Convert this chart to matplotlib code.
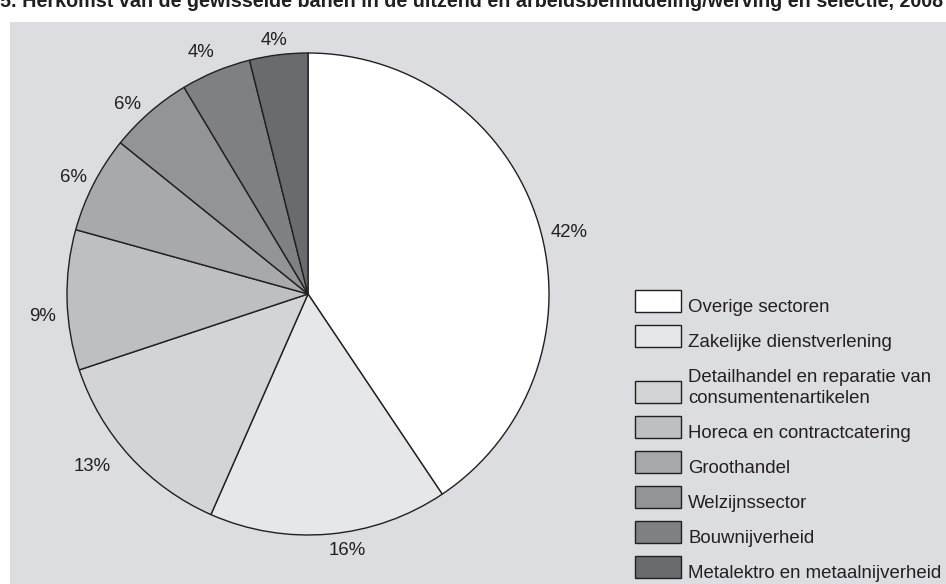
import matplotlib
matplotlib.use("Agg")
import matplotlib.pyplot as plt
from matplotlib.patches import Rectangle

plt.rcParams['font.family'] = ['Liberation Sans', 'DejaVu Sans']

title = ("5. Herkomst van de gewisselde banen in de uitzend en "
         "arbeidsbemiddeling/werving en selectie, 2008")

sectors = [
    "Overige sectoren",
    "Zakelijke dienstverlening",
    "Detailhandel en reparatie van\nconsumentenartikelen",
    "Horeca en contractcatering",
    "Groothandel",
    "Welzijnssector",
    "Bouwnijverheid",
    "Metalektro en metaalnijverheid",
]
# slice sizes as drawn
shares = [40.6, 16.0, 13.3, 9.4, 6.5, 5.6, 4.7, 3.9]
# percentages as printed next to the slices
pct_labels = ["42%", "16%", "13%", "9%", "6%", "6%", "4%", "4%"]
colors = ["#ffffff", "#e6e7e9", "#d3d4d6", "#bebfc2",
          "#a8a9ac", "#939497", "#7f8084", "#6a6b6f"]

# where the percentage labels sit, in pie radii from the centre
label_xy = [(1.083, 0.257), (0.162, -1.066), (-0.896, -0.714),
            (-1.100, -0.095), (-0.975, 0.485), (-0.747, 0.788),
            (-0.444, 1.004), (-0.141, 1.050)]

W, H = 946, 584
bg = "#dcdde0"
ink = "#231f20"
fs = 13.4


def fx(px):
    return px / W


def fy(py):
    # pixel row from the top -> figure fraction
    return 1 - py / H


fig = plt.figure(figsize=(W / 100, H / 100), dpi=100)
fig.patch.set_facecolor("white")

# grey panel behind the chart
fig.patches.append(Rectangle((fx(10), 0), 1, fy(22),
                             transform=fig.transFigure,
                             facecolor=bg, edgecolor="none", zorder=-10))

# title is cut off at the top edge, as in the source
fig.text(0.0, fy(7), title, fontsize=14.2, fontweight="bold",
         color=ink, ha="left", va="baseline")

cx, cy, r = 308, 294, 241
half = 1.1 * r
ax = fig.add_axes([fx(cx - half), fy(cy + half), 2 * half / W, 2 * half / H])
ax.set_facecolor("none")

wedges, texts = ax.pie(
    shares, labels=pct_labels, colors=colors,
    startangle=90, counterclock=False,
    wedgeprops=dict(edgecolor=ink, linewidth=1.0),
    textprops=dict(fontsize=fs, color=ink),
)
for t, xy in zip(texts, label_xy):
    t.set_position(xy)
    t.set_ha("center")
    t.set_va("center")
ax.set_xlim(-1.1, 1.1)
ax.set_ylim(-1.1, 1.1)
ax.set_aspect("equal")

# legend: swatch with the label's last baseline on the swatch bottom
box_w, box_h, step, line_h = 46, 22, 35, 21
top = 290
for name, col in zip(sectors, colors):
    extra = line_h * name.count("\n")
    top += extra
    fig.patches.append(Rectangle((fx(635), fy(top + box_h)), box_w / W, box_h / H,
                                 transform=fig.transFigure, facecolor=col,
                                 edgecolor=ink, linewidth=1.0))
    fig.text(fx(688), fy(top + box_h), name, fontsize=fs, color=ink,
             ha="left", va="baseline", linespacing=1.3)
    top += step

fig.savefig("out.png", dpi=100, facecolor=fig.get_facecolor())
